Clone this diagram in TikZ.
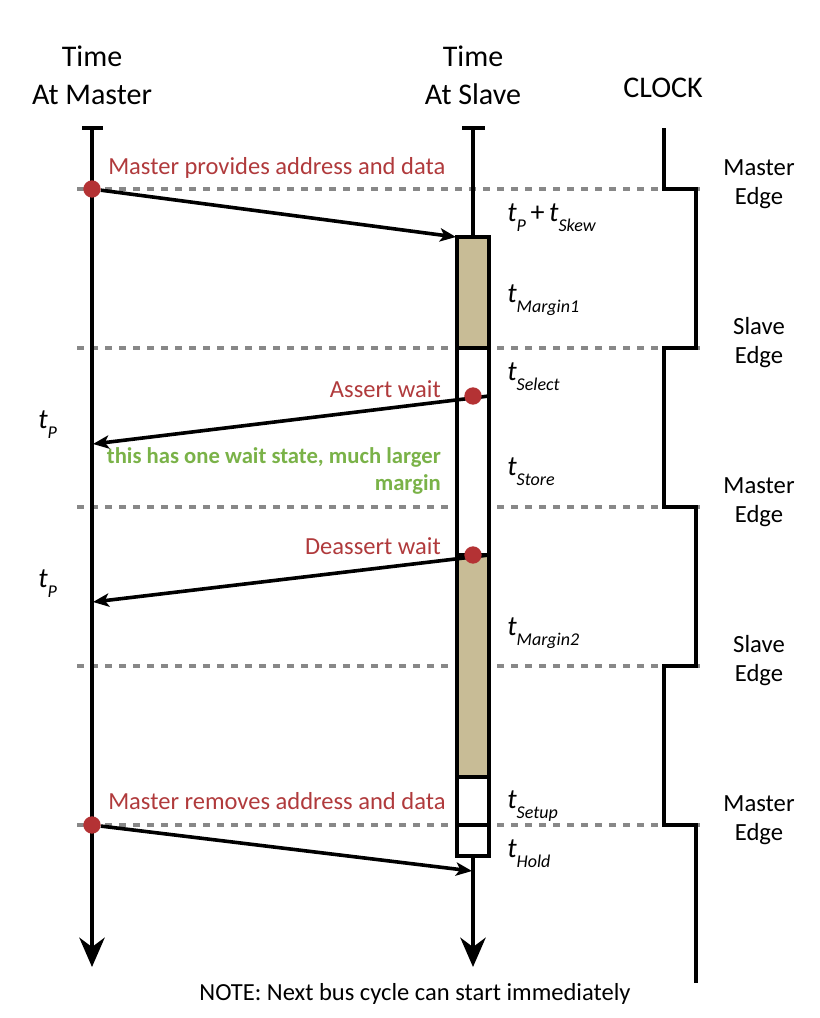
\documentclass[tikz,border=0pt]{standalone}
\usepackage{fontspec}
\setmainfont{Carlito}
\usetikzlibrary{arrows.meta,positioning}

\definecolor{sigred}{RGB}{176,58,60}
\definecolor{dotred}{RGB}{180,50,52}
\definecolor{notegreen}{RGB}{122,178,72}
\definecolor{boxtan}{RGB}{200,188,150}
\definecolor{dashgray}{RGB}{136,136,136}

\newcommand{\tsym}[1]{{\fontsize{21}{21}\selectfont\itshape t}\raisebox{-8pt}{\fontsize{13.5}{13.5}\selectfont\itshape #1}}

\tikzset{
  wire/.style={line width=2.7pt},
  timeline/.style={line width=2.7pt, -{Stealth[length=22pt,width=19pt,inset=7pt]}},
  sig/.style={line width=2.7pt, -{Stealth[length=12pt,width=10pt,inset=3pt]}},
  edgeline/.style={dashgray, line width=2.8pt, dash pattern=on 5.5pt off 5pt},
  seg/.style={draw, line width=2.7pt},
  dot/.style={circle, fill=dotred, inner sep=0pt, minimum size=13pt},
  headlab/.style={anchor=base, inner sep=0pt, font=\fontsize{22.5}{27}\selectfont},
  edgelab/.style={anchor=base, inner sep=0pt, font=\fontsize{18.5}{22}\selectfont},
  redlab/.style={inner sep=0pt, text=sigred, font=\fontsize{18.4}{22}\selectfont},
  greenlab/.style={inner sep=0pt, text=notegreen, align=right, font=\fontsize{17}{20}\selectfont\bfseries},
  tlab/.style={anchor=base west, inner sep=0pt, font=\fontsize{21}{21}\selectfont},
  notelab/.style={anchor=base, inner sep=0pt, font=\fontsize{18.4}{22}\selectfont}
}

\begin{document}
\begin{tikzpicture}[x=0.75pt, y=-0.75pt]
  \useasboundingbox (0,0) rectangle (820,1018);
  % headers
  \node[headlab] (hm1) at (92,66) {Time};
  \node[headlab] (hm2) at (92,104) {At Master};
  \node[headlab] (hs1) at (473,66) {Time};
  \node[headlab] (hs2) at (473,104) {At Slave};
  \node[headlab] (hc) at (663,97) {CLOCK};
  % clock edges
  \foreach \y in {189,348,507,666,825}
    \draw[edgeline] (77,\y) -- (705,\y);
  \draw[wire] (664,128) |- (696,189) |- (664,348) |- (696,507)
    |- (664,666) |- (696,825) -- (696,983);
  \foreach \y/\w in {189/Master,348/Slave,507/Master,666/Slave,825/Master}{
    \node[edgelab] at (759,\y-14) {\w};
    \node[edgelab] at (759,\y+15) {Edge};
  }
  % time lines
  \draw[wire] (82,128) -- (103,128);
  \draw[wire] (462,128) -- (485,128);
  \draw[timeline] (92,128) -- (92,967);
  \draw[timeline] (473,128) -- (473,967);
  % slave window
  \draw[seg, fill=boxtan] (457,237) rectangle (489,348);
  \draw[seg, fill=white] (457,348) rectangle (489,555);
  \draw[seg, fill=boxtan] (457,555) rectangle (489,777);
  \draw[seg, fill=white] (457,777) rectangle (489,825);
  \draw[seg, fill=white] (457,825) rectangle (489,856);
  % signals
  \node[dot] (m1) at (92,189) {};
  \coordinate (s1) at (456,237);
  \draw[sig] (m1) -- (s1);
  \coordinate (a0) at (489,396);
  \coordinate (a1) at (93,444);
  \draw[sig] (a0) -- (a1);
  \node[dot] (w1) at (473,396) {};
  \coordinate (d0) at (489,555);
  \coordinate (d1) at (93,602);
  \draw[sig] (d0) -- (d1);
  \node[dot] (w2) at (473,555) {};
  \node[dot] (m2) at (92,825) {};
  \coordinate (s2) at (472,871);
  \draw[sig] (m2) -- (s2);
  % labels
  \node[redlab, anchor=base west] (r1) at (108,174) {Master provides address and data};
  \node[redlab, anchor=base east] (r2) at (441,397) {Assert wait};
  \node[greenlab, anchor=base east] (g1) at (441,490) {this has one wait state, much larger\\margin};
  \node[redlab, anchor=base east] (r3) at (441,554) {Deassert wait};
  \node[redlab, anchor=base west] (r4) at (108,809) {Master removes address and data};
  \node[tlab] (tskew) at (507,221) {\tsym{P}\,+\,\tsym{Skew}};
  \node[tlab] (tm1) at (507,302) {\tsym{Margin1}};
  \node[tlab] (tsel) at (507,380) {\tsym{Select}};
  \node[tlab] (tsto) at (507,475) {\tsym{Store}};
  \node[tlab] (tm2) at (507,635) {\tsym{Margin2}};
  \node[tlab] (tset) at (507,808) {\tsym{Setup}};
  \node[tlab] (thold) at (507,857) {\tsym{Hold}};
  \node[tlab] (tp1) at (38,428) {\tsym{P}};
  \node[tlab] (tp2) at (38,587) {\tsym{P}};
  \node[notelab] (note) at (415,1000) {NOTE: Next bus cycle can start immediately};
\end{tikzpicture}
\end{document}
